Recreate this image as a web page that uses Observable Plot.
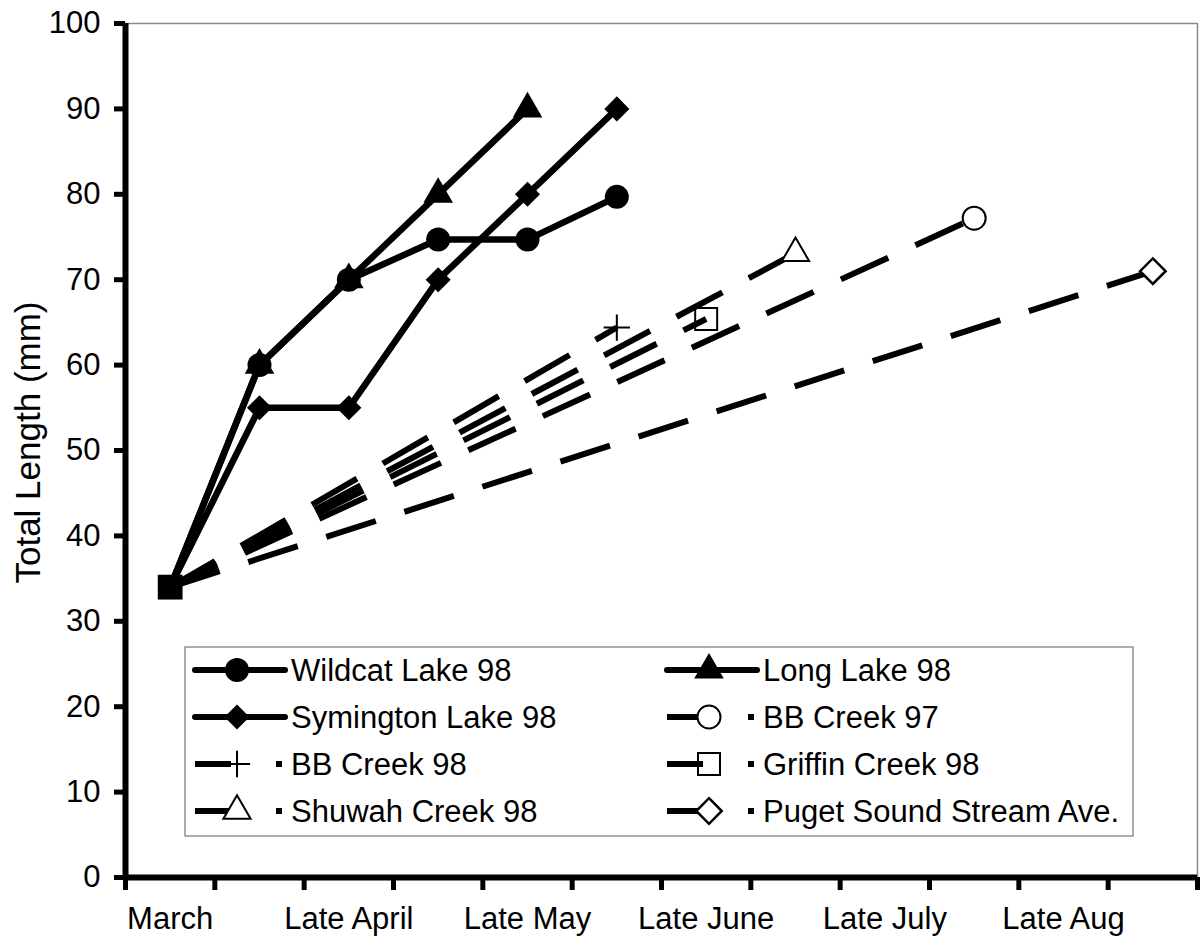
<!DOCTYPE html>
<html>
<head>
<meta charset="utf-8">
<script src="https://cdn.jsdelivr.net/npm/d3@7"></script>
<script src="https://cdn.jsdelivr.net/npm/@observablehq/plot@0.6"></script>
<style>
  html, body { margin: 0; padding: 0; background: #fff; }
  #chart { position: relative; width: 1200px; height: 943px; }
</style>
</head>
<body>
<div id="chart"></div>
<script>
// ---- Data ----
// 12 half-month categories; only every other one is labelled
const categories = ["March", "", "Late April", "", "Late May", "", "Late June", "", "Late July", "", "Late Aug", ""];
const yTicks = [0, 10, 20, 30, 40, 50, 60, 70, 80, 90, 100];
const yLabel = "Total Length (mm)";

// shared starting point (category index, length)
const startIdx = [0];
const startVal = [34];

// solid (lake) series: category index and length
const wildcatIdx = [0, 1, 2, 3, 4, 5];
const wildcat = [34, 60, 70, 74.7, 74.7, 79.7];
const longLakeIdx = [0, 1, 2, 3, 4];
const longLake = [34, 60, 70, 80, 90];
const symingtonIdx = [0, 1, 2, 3, 4, 5];
const symington = [34, 55, 55, 70, 80, 90];

// dashed (stream) series
const bbCreek97Idx = [0, 9];
const bbCreek97 = [34, 77.2];
const bbCreek98Idx = [0, 5];
const bbCreek98 = [34, 64.4];
const griffinIdx = [0, 6];
const griffin = [34, 65.4];
const shuwahIdx = [0, 7];
const shuwah = [34, 73.1];
const pugetIdx = [0, 11];
const puget = [34, 71];

const seriesNames = ["Wildcat Lake 98", "Long Lake 98", "Symington Lake 98", "BB Creek 97",
  "BB Creek 98", "Griffin Creek 98", "Shuwah Creek 98", "Puget Sound Stream Ave."];

// ---- build tables ----
function rows(name, idx, vals) { return idx.map((d, i) => ({series: name, x: d + 0.5, y: vals[i]})); }
const solid = [
  ...rows(seriesNames[0], wildcatIdx, wildcat),
  ...rows(seriesNames[1], longLakeIdx, longLake),
  ...rows(seriesNames[2], symingtonIdx, symington)
];
const dashed = [
  ...rows(seriesNames[3], bbCreek97Idx, bbCreek97),
  ...rows(seriesNames[4], bbCreek98Idx, bbCreek98),
  ...rows(seriesNames[5], griffinIdx, griffin),
  ...rows(seriesNames[6], shuwahIdx, shuwah),
  ...rows(seriesNames[7], pugetIdx, puget)
];
const startRows = rows("start", startIdx, startVal);

// marker styles per series
const markerStyle = {
  "Wildcat Lake 98": {symbol: "circle", r: 12, fill: "black", stroke: "none", sw: 0},
  "Long Lake 98": {symbol: "triangle", r: 11, fill: "black", stroke: "none", sw: 0},
  "Symington Lake 98": {symbol: "diamond2", r: 11.3, fill: "black", stroke: "none", sw: 0},
  "BB Creek 97": {symbol: "circle", r: 11.5, fill: "white", stroke: "black", sw: 2},
  "BB Creek 98": {symbol: "plus", r: 8.5, fill: "none", stroke: "black", sw: 2},
  "Griffin Creek 98": {symbol: "square2", r: 14, fill: "none", stroke: "black", sw: 2},
  "Shuwah Creek 98": {symbol: "triangle2", r: 13, fill: "white", stroke: "black", sw: 2},
  "Puget Sound Stream Ave.": {symbol: "diamond2", r: 11.5, fill: "white", stroke: "black", sw: 2.5}
};

const font = "'Liberation Sans', Arial, Helvetica, sans-serif";
const dotMarks = seriesNames.map(name => {
  const s = markerStyle[name];
  const data = [...solid, ...dashed].filter(d => d.series === name && d.x > 1);
  return Plot.dot(data, {x: "x", y: "y", symbol: () => s.symbol, r: s.r, fill: s.fill, stroke: s.stroke, strokeWidth: s.sw});
});

const chart = Plot.plot({
  width: 1200,
  height: 943,
  marginLeft: 125,
  marginRight: 3,
  marginTop: 23,
  marginBottom: 66,
  x: {domain: [0, 12], axis: null},
  y: {domain: [0, 100], axis: null},
  symbol: {type: "identity"},
  style: {fontFamily: font, fontSize: "31px", color: "black", background: "white", overflow: "visible"},
  marks: [
    Plot.ruleY([100], {stroke: "#8a8a8a", strokeWidth: 1.5}),
    Plot.ruleX([12], {stroke: "#8a8a8a", strokeWidth: 1.5}),
    Plot.axisY({ticks: yTicks, tickSize: 11, tickPadding: 14, strokeWidth: 5, fontSize: 31, label: null}),
    Plot.axisX({ticks: d3.range(0, 13), tickSize: 13, strokeWidth: 5, tickFormat: () => "", label: null}),
    Plot.axisX({ticks: categories.map((c, i) => c ? i + 0.5 : null).filter(d => d !== null), tickSize: 0, tickPadding: 29,
      tickFormat: d => categories[Math.floor(d)], fontSize: 31, label: null}),
    Plot.ruleX([0], {strokeWidth: 6}),
    Plot.ruleY([0], {strokeWidth: 6}),
    Plot.text([yLabel], {frameAnchor: "left", textAnchor: "middle", rotate: -90, dx: -97, dy: -8, fontSize: 35, fill: "black"}),
    Plot.line(dashed, {x: "x", y: "y", z: "series", stroke: "black", strokeWidth: 6, strokeDasharray: "52,30", strokeLinecap: "butt"}),
    Plot.line(solid, {x: "x", y: "y", z: "series", stroke: "black", strokeWidth: 6.5}),
    ...dotMarks,
    Plot.dot(startRows, {x: "x", y: "y", symbol: () => "square", r: 14, fill: "black"})
  ]
});
document.getElementById("chart").appendChild(chart);

// ---- legend (inside the plot area) ----
const svg = d3.select(chart);
const lg = svg.append("g").attr("font-family", font).attr("font-size", 31).attr("text-anchor", "start");
lg.append("rect").attr("x", 185).attr("y", 647).attr("width", 948).attr("height", 189)
  .attr("fill", "white").attr("stroke", "#777").attr("stroke-width", 1.2);
const symMap = {circle: d3.symbolCircle, triangle: d3.symbolTriangle, diamond2: d3.symbolDiamond2,
  plus: d3.symbolPlus, square2: d3.symbolSquare2, triangle2: d3.symbolTriangle2};
const legendOrder = ["Wildcat Lake 98", "Long Lake 98", "Symington Lake 98", "BB Creek 97",
  "BB Creek 98", "Griffin Creek 98", "Shuwah Creek 98", "Puget Sound Stream Ave."];
const isDashed = n => !["Wildcat Lake 98", "Long Lake 98", "Symington Lake 98"].includes(n);
legendOrder.forEach((name, i) => {
  const col = i % 2, row = Math.floor(i / 2);
  const x0 = col === 0 ? 195 : 667;
  const cy = 670 + row * 47;
  const g = lg.append("g");
  if (isDashed(name)) {
    g.append("line").attr("x1", x0).attr("x2", x0 + 36).attr("y1", cy).attr("y2", cy)
      .attr("stroke", "black").attr("stroke-width", 6);
    g.append("rect").attr("x", x0 + 81).attr("y", cy - 3).attr("width", 6).attr("height", 6).attr("fill", "black");
  } else {
    g.append("line").attr("x1", x0).attr("x2", x0 + 90).attr("y1", cy).attr("y2", cy)
      .attr("stroke", "black").attr("stroke-width", 6).attr("stroke-linecap", "round");
  }
  const s = markerStyle[name];
  g.append("path").attr("transform", `translate(${x0 + 42},${cy})`)
    .attr("d", d3.symbol(symMap[s.symbol], Math.PI * s.r * s.r)())
    .attr("fill", s.fill).attr("stroke", s.stroke).attr("stroke-width", s.sw);
  g.append("text").attr("x", x0 + 96).attr("y", cy).attr("dy", "0.35em").attr("fill", "black")
    .attr("text-anchor", "start").text(name);
});
</script>
</body>
</html>
